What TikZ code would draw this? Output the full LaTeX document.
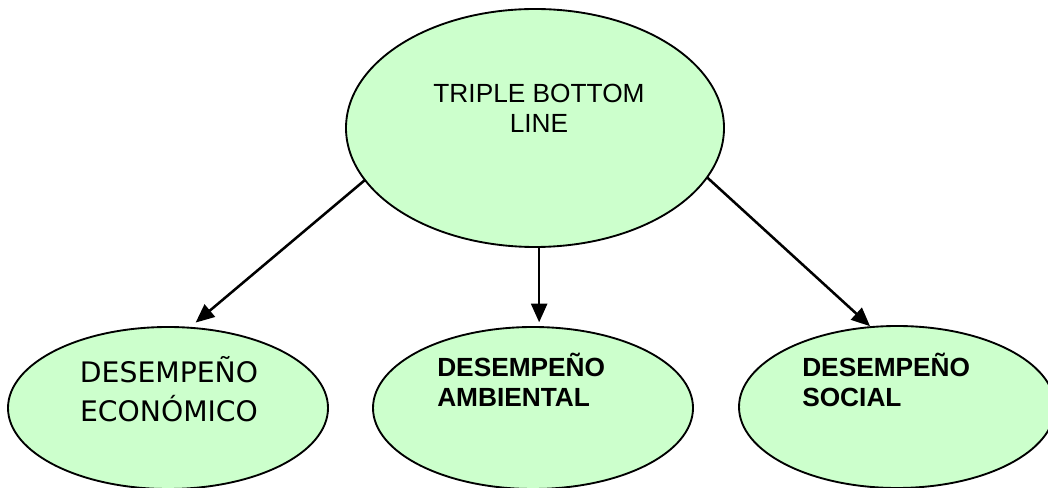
\documentclass[tikz,border=0pt]{standalone}
\usepackage{fontspec}
\setmainfont{Liberation Sans}
\newfontfamily\tahoma{DejaVu Sans}
\usetikzlibrary{shapes.geometric,arrows.meta}
\definecolor{lgreen}{HTML}{CCFFCC}
\begin{document}
\begin{tikzpicture}[x=0.75pt,y=0.75pt,
  bubble/.style={ellipse,draw=black,fill=lgreen,line width=1.4pt,inner sep=0pt,outer sep=0pt},
  lbl/.style={font=\fontsize{19.7}{22.5}\selectfont,inner sep=0pt},
  tlbl/.style={font=\tahoma\fontsize{21.2}{29.3}\selectfont,inner sep=0pt},
  arr/.style={-{Triangle[length=14pt,width=12pt]},line width=1.9pt}]
\useasboundingbox (0,0) rectangle (1048,488);
\clip (0,0) rectangle (1048,488);
\node[bubble,minimum width=283.5pt,minimum height=178.5pt] (top) at (535,360) {};
\node[bubble,minimum width=240pt,minimum height=121.5pt] (econ) at (168,80) {};
\node[bubble,minimum width=240pt,minimum height=121.5pt] (amb) at (533,80) {};
\node[bubble,minimum width=237pt,minimum height=121.5pt] (soc) at (897,81) {};
\node[lbl,align=center,anchor=base] (toptext) at (539,355) {TRIPLE BOTTOM\\LINE};
\node[tlbl,align=center,anchor=base] (econtext) at (169,66) {DESEMPEÑO\\ECONÓMICO};
\node[lbl,font=\bfseries\fontsize{19.7}{23.2}\selectfont,align=left,anchor=base west] (ambtext) at (437,81) {DESEMPEÑO\\AMBIENTAL};
\node[lbl,font=\bfseries\fontsize{19.7}{23.2}\selectfont,align=left,anchor=base west] (soctext) at (802,81) {DESEMPEÑO\\SOCIAL};
\draw[arr,shorten >=6pt] (top.197) -- (econ.75);
\draw[arr,shorten >=3.5pt] (top.-88) -- (top.-88 |- amb.north);
\draw[arr,shorten >=1pt] (top.-16) -- (soc.108);
\end{tikzpicture}
\end{document}
